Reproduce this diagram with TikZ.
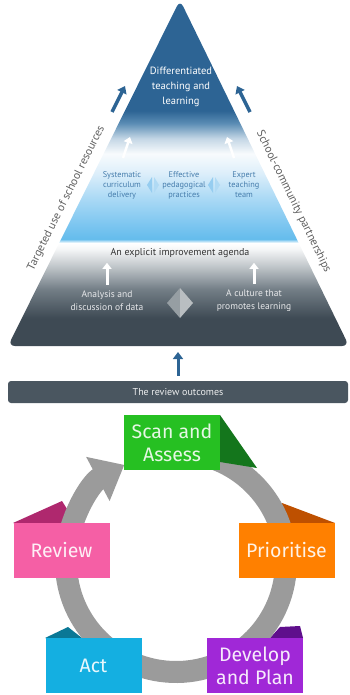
\documentclass[tikz,border=0pt]{standalone}
\usepackage{fontspec}
\setmainfont{PT Sans}
\newfontfamily\cyclefont{Fira Sans}
\usepackage{tikz}
\usetikzlibrary{arrows.meta,calc,positioning}

\definecolor{topblue}{RGB}{45,100,148}
\definecolor{midblue}{RGB}{70,125,172}
\definecolor{paleblue}{RGB}{150,205,240}
\definecolor{slate}{RGB}{62,74,84}
\definecolor{barslate}{RGB}{74,86,96}
\definecolor{sidegray}{RGB}{95,95,95}
\definecolor{linkdark}{RGB}{150,158,163}
\definecolor{linklight}{RGB}{185,190,193}
\definecolor{ringgray}{RGB}{155,155,155}
\definecolor{scangreen}{RGB}{38,192,34}
\definecolor{scandark}{RGB}{20,118,28}
\definecolor{prioorange}{RGB}{255,128,0}
\definecolor{priodark}{RGB}{190,80,0}
\definecolor{reviewpink}{RGB}{245,95,165}
\definecolor{reviewdark}{RGB}{175,40,110}
\definecolor{actblue}{RGB}{20,175,225}
\definecolor{actdark}{RGB}{10,120,150}
\definecolor{devpurple}{RGB}{160,40,215}
\definecolor{devdark}{RGB}{95,15,140}
% shading stops
\definecolor{sgA}{RGB}{115,126,134}
\definecolor{sgB}{RGB}{190,196,200}
\definecolor{sgC}{RGB}{245,246,247}
\definecolor{sbA}{RGB}{100,188,236}
\definecolor{sbB}{RGB}{125,198,240}
\definecolor{sbC}{RGB}{170,217,245}
\definecolor{sbD}{RGB}{220,238,250}
\definecolor{sbE}{RGB}{248,251,253}
\definecolor{sbF}{RGB}{195,214,229}
\definecolor{sbG}{RGB}{90,140,180}

% layers of the pyramid, from the base (25bp) up to the tip (75bp)
\pgfdeclareverticalshading{pyramidfill}{100bp}{%
  color(0bp)=(slate); color(29bp)=(slate);
  color(33.2bp)=(sgA); color(36.4bp)=(sgB); color(39bp)=(sgC);
  color(39.9bp)=(white);
  color(40.45bp)=(sbA); color(42.6bp)=(sbB); color(46.3bp)=(sbC);
  color(49.9bp)=(sbD); color(52.8bp)=(sbE); color(55bp)=(sbF);
  color(57.2bp)=(sbG);
  color(59bp)=(topblue); color(100bp)=(topblue)}

\begin{document}
\begin{tikzpicture}[x=1pt, y=-1pt, every node/.style={align=center, inner sep=0pt},
  toptext/.style={text=white, font=\fontsize{10.5}{15}\selectfont},
  midtext/.style={text=midblue, font=\fontsize{8.3}{10}\selectfont},
  basetext/.style={text=white!88!slate, font=\fontsize{9.5}{13}\selectfont},
  sidelabel/.style={text=sidegray, font=\fontsize{11.5}{14}\selectfont, sloped},
  uparrow/.style={draw=white, line width=3pt, -{Triangle[width=9pt,length=6pt]}},
  bluearrow/.style={draw=topblue, line width=3.5pt, -{Triangle[width=10pt,length=7pt]}},
  ring/.style={draw=ringgray, line width=22pt, -{Triangle[width=48pt,length=30pt]}},
  stage/.style={minimum width=96pt, minimum height=55pt,
    font=\cyclefont\fontsize{19.5}{23}\selectfont}]
\useasboundingbox (0,0) rectangle (350,695);

% pyramid
\coordinate (apex) at (180,0);
\coordinate (bl) at (8,346);
\coordinate (br) at (349,346);
\shade[shading=pyramidfill, rounded corners=7pt] (bl) -- (apex) -- (br) -- cycle;

\path (bl) -- (apex) node[sidelabel, pos=0.41, above=8pt] (resources) {Targeted use of school resources};
\path (apex) -- (br) node[sidelabel, pos=0.60, above=8pt] (partners) {School-community partnerships};
\draw[bluearrow] (112,112) -- (125,86);
\draw[bluearrow] (250,112) -- (237,86);

\node[toptext] (diff) at (181,87) {Differentiated\\teaching and\\learning};
\node[midtext] (sys) at (122,185) {Systematic\\curriculum\\delivery};
\node[midtext] (eff) at (184,185) {Effective\\pedagogical\\practices};
\node[midtext] (expert) at (244,185) {Expert\\teaching\\team};
\draw[uparrow, line width=2.5pt] (123,158) -- (130,137);
\draw[uparrow, line width=2.5pt] (234,158) -- (227,137);

% two-way marks between the practices
\foreach \a/\b in {sys/eff, eff/expert} {
  \coordinate (m) at ($(\a)!0.5!(\b)$);
  \fill[paleblue] ($(m)+(-1,0)$) -- ++(-5,0) -- ++(5,-8) -- cycle;
  \fill[paleblue] ($(m)+(-1,0)$) -- ++(-5,0) -- ++(5,8) -- cycle;
  \fill[paleblue!75!white] ($(m)+(1,-8)$) -- ++(5,8) -- ++(-5,8) -- cycle;
}

\node[text=black!80, font=\fontsize{10}{12}\selectfont] (agenda) at (180,253) {An explicit improvement agenda};
\node[basetext] (data) at (107,301) {Analysis and\\discussion of data};
\node[basetext] (culture) at (254,301) {A culture that\\promotes learning};
\fill[linkdark] (167,303) -- (180,288) -- (180,318) -- cycle;
\fill[linklight] (193,303) -- (180,288) -- (180,318) -- cycle;
\draw[uparrow] ([yshift=6pt]data.north) -- ([yshift=-5pt]data.north |- agenda.south);
\draw[uparrow] ([yshift=6pt]culture.north) -- ([yshift=-5pt]culture.north |- agenda.south);

\node[fill=barslate, rounded corners=3pt, minimum width=340pt, minimum height=22pt,
  text=white!90!barslate, font=\fontsize{10}{12}\selectfont] (outcomes) at (178,392) {The review outcomes};
\draw[bluearrow, line width=3pt] ([yshift=5pt]outcomes.north) -- ([yshift=-6pt]outcomes.north |- bl);

% improvement cycle
\coordinate (hub) at (176,562);
\fill[reviewdark] (13,523) -- (62,501) -- (76,523) -- cycle;
\fill[priodark] (282,503) -- (335,523) -- (282,523) -- cycle;
\fill[actdark] (45,638) -- (68,627) -- (82,638) -- cycle;
\fill[devdark] (280,627) -- (300,626) -- (303,638) -- (270,638) -- cycle;
\draw[ring] ($(hub)+(-85:110)$) arc[start angle=-85, end angle=242, radius=110];
\fill[scandark] (220,415) -- (257,468) -- (220,462) -- cycle;

\node[stage, fill=scangreen, text=white!88!scangreen] (scan) at (172,442.5) {Scan and\\Assess};
\node[stage, fill=prioorange, text=white!90!prioorange] (prio) at (286.5,550.5) {Prioritise};
\node[stage, fill=reviewpink, text=white!90!reviewpink] (review) at (61.5,550.5) {Review};
\node[stage, fill=actblue, text=white!90!actblue] (act) at (93.5,665.5) {Act};
\node[stage, fill=devpurple, text=white!90!devpurple] (develop) at (255,665.5) {Develop\\and Plan};
\end{tikzpicture}
\end{document}
